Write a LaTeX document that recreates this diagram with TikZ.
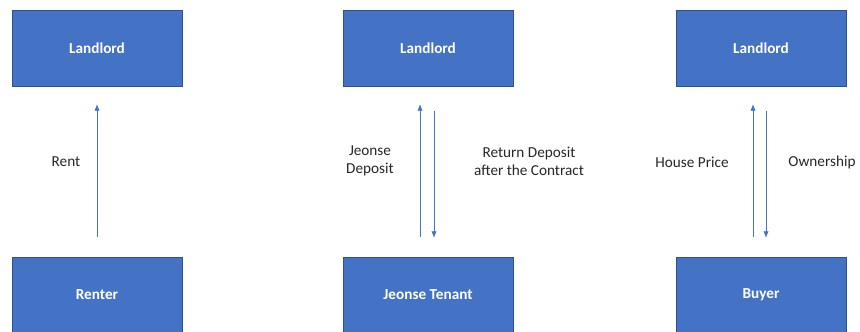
\documentclass[tikz,border=0pt]{standalone}
\usepackage{fontspec}
\setmainfont{Carlito}
\usepackage{tikz}
\usetikzlibrary{positioning,calc,arrows.meta}
\definecolor{boxblue}{HTML}{4472C4}
\definecolor{boxedge}{HTML}{2F528F}
\definecolor{labelgray}{HTML}{262626}

\begin{document}
\begin{tikzpicture}[x=0.03cm, y=-0.03cm,
			party/.style={rectangle, fill=boxblue, draw=boxedge, thin, minimum width=5.1cm, minimum height=2.28cm, text=white, font=\fontsize{13}{15}\selectfont\bfseries},
			flowlabel/.style={rectangle, align=center, text=labelgray, font=\fontsize{13}{15.5}\selectfont},
			flow/.style={draw=boxblue, semithick, -{Latex[length=5.5pt, width=4.5pt]}, shorten <=0.6cm, shorten >=0.54cm}]
			\useasboundingbox (0,0) rectangle (860,331);
			% rent
			\node[party] (landlordA) at (97,48) {Landlord};
			\node[party] (renter) at (97,295) {Renter};
			\node[flowlabel] (labelrent) at (66,162) {Rent};
			% jeonse
			\node[party] (landlordB) at (428,48) {Landlord};
			\node[party] (tenant) at (428,295) {Jeonse Tenant};
			\node[flowlabel] (labeldeposit) at (370,161) {Jeonse\\Deposit};
			\node[flowlabel] (labelreturn) at (529,161) {Return Deposit\\after the Contract};
			% purchase
			\node[party] (landlordC) at (761,48) {Landlord};
			\node[party] (buyer) at (761,295) {Buyer};
			\node[flowlabel] (labelprice) at (692,162) {House Price};
			\node[flowlabel] (labelowner) at (822,162) {Ownership};
			\begin{scope}[flow]
				\draw (renter.north) -- (landlordA.south);
				\draw ([xshift=-8*0.03cm]tenant.north) -- ([xshift=-8*0.03cm]landlordB.south);
				\draw[shorten <=0.75cm, shorten >=0.57cm] ([xshift=6*0.03cm]landlordB.south) -- ([xshift=6*0.03cm]tenant.north);
				\draw ([xshift=-8*0.03cm]buyer.north) -- ([xshift=-8*0.03cm]landlordC.south);
				\draw[shorten <=0.75cm, shorten >=0.57cm] ([xshift=5*0.03cm]landlordC.south) -- ([xshift=5*0.03cm]buyer.north);
			\end{scope}
		\end{tikzpicture}
\end{document}
